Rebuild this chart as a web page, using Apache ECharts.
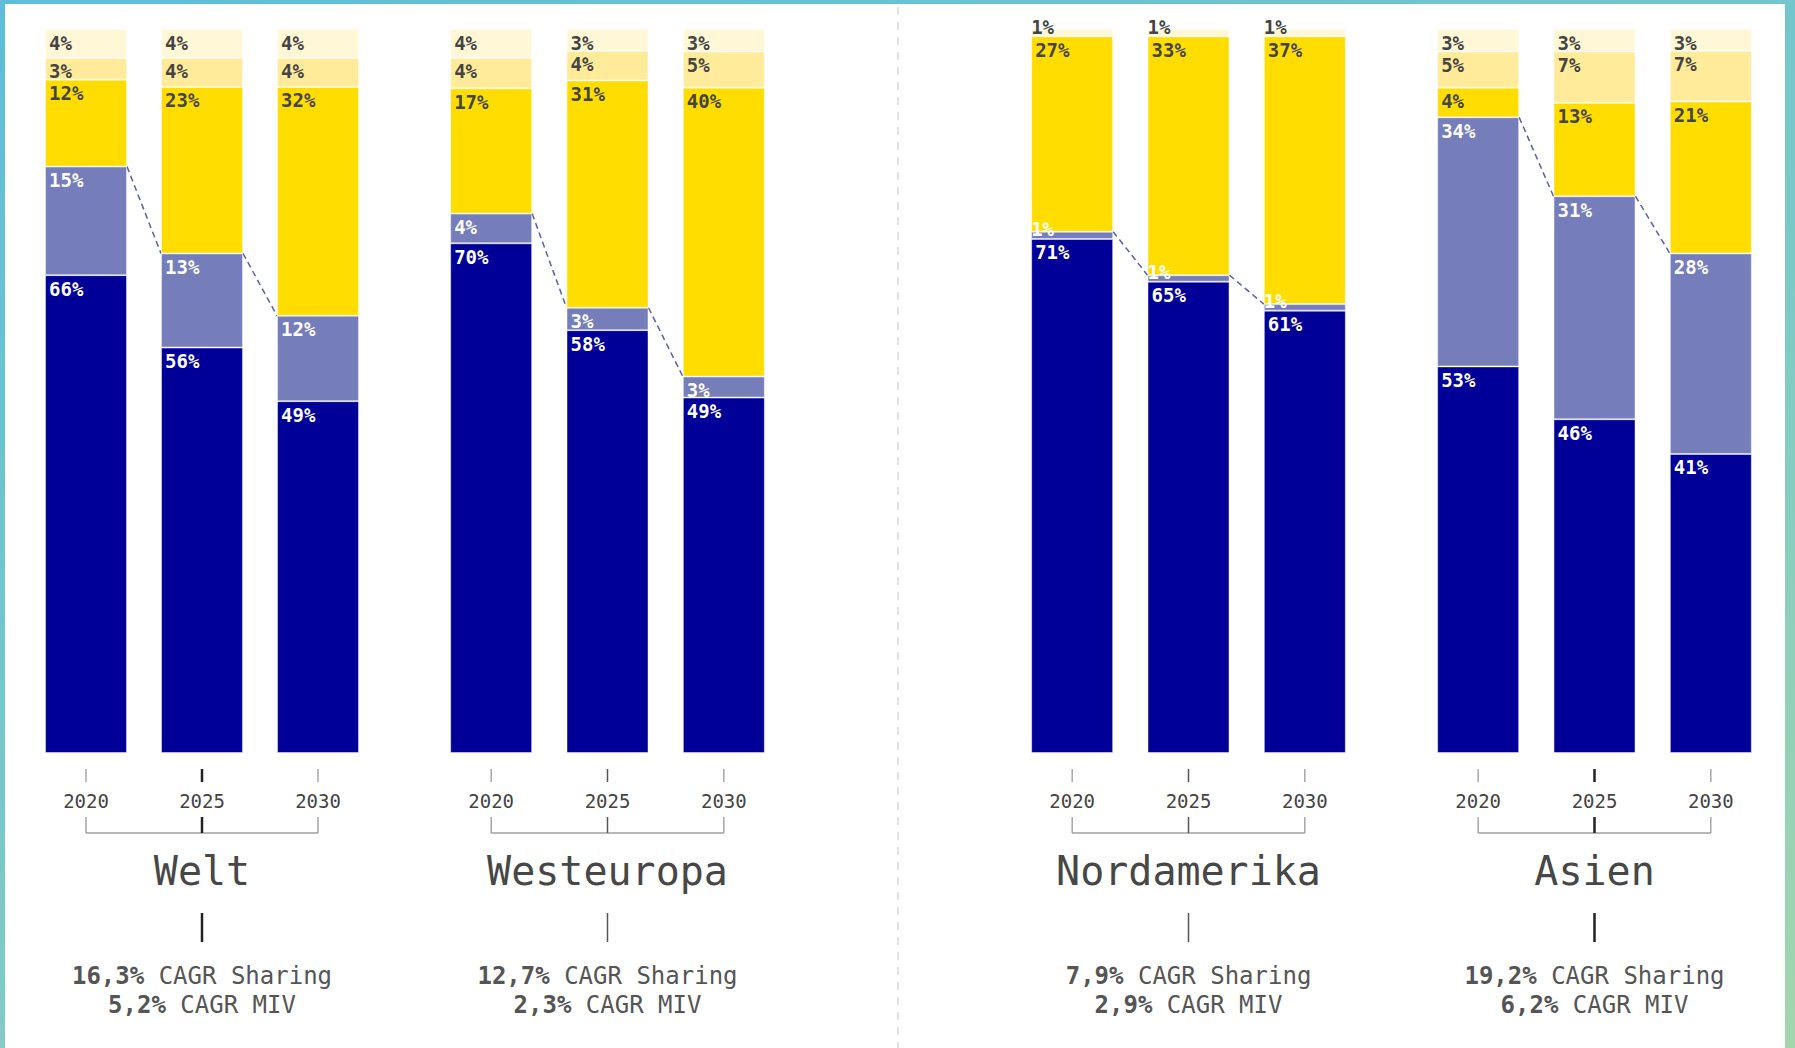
<!DOCTYPE html>
<html>
<head>
<meta charset="utf-8">
<script src="https://cdn.jsdelivr.net/npm/echarts@6/dist/echarts.min.js"></script>
<style>
  html, body { margin: 0; padding: 0; width: 1795px; height: 1048px; overflow: hidden; background: #fff; }
  #frame { position: absolute; left: 0; top: 0; width: 1795px; height: 1048px;
           background: linear-gradient(160deg, #5cbedb 0%, #7ccac6 55%, #a3d6ad 100%); }
  #inner { position: absolute; left: 5px; top: 4px; right: 10px; bottom: 0; background: #fff; }
  #chart { position: absolute; left: 0; top: 0; width: 1795px; height: 1048px; }
</style>
</head>
<body>
<div id="frame"><div id="inner"></div></div>
<div id="chart"></div>
<script>
// ---- data ----
const years = ['2020', '2025', '2030'];
const regions = ['Welt', 'Westeuropa', 'Nordamerika', 'Asien'];
const cagrSharing = ['16,3%', '12,7%', '7,9%', '19,2%'];
const cagrMiv = ['5,2%', '2,3%', '2,9%', '6,2%'];

// shares per region (rows) and year (columns), bottom segment first
const segNavy   = [[66, 56, 48.6], [70.4, 58.4, 49.1], [71, 65.1, 61.1], [53.4, 46.1, 41.3]];
const segGrey   = [[15, 13, 11.8], [4.1, 3.1, 2.9],    [1, 0.9, 0.9],    [34.4, 30.8, 27.7]];
const segYellow = [[12, 23, 31.6], [17.3, 31.4, 39.9], [27, 33, 37],     [4.1, 12.9, 21.0]];
const segLight  = [[3, 4, 4],      [4.2, 4.1, 5.0],    [0, 0, 0],        [5.0, 7.1, 7.0]];
const segTop    = [[4, 4, 4],      [4.0, 3.0, 3.1],    [1, 1, 1],        [3.1, 3.1, 3.0]];

const segments = [
  { name: 'Segment 1', data: segNavy,   color: '#000099', text: '#ffffff' },
  { name: 'Segment 2', data: segGrey,   color: '#767dbb', text: '#ffffff' },
  { name: 'Segment 3', data: segYellow, color: '#ffdd00', text: '#444444' },
  { name: 'Segment 4', data: segLight,  color: '#ffeb99', text: '#444444' },
  { name: 'Segment 5', data: segTop,    color: '#fff7d6', text: '#444444' }
];
const strongCenter = [true, false, false, true];

// ---- layout ----
const FONT = '"DejaVu Sans Mono", "Liberation Mono", monospace';
const BAR_W = 82;
const gridLefts = [28, 433, 1014, 1420];
const gridWidths = [348, 349, 349, 349];

const grids = [], xAxes = [], yAxes = [], series = [];

regions.forEach((reg, r) => {
  grids.push({ left: gridLefts[r], width: gridWidths[r], top: 29, height: 724 });
  xAxes.push({
    type: 'category', gridIndex: r, data: years,
    axisLine: { show: false }, axisTick: { show: false },
    axisLabel: { margin: 38, fontSize: 19, color: '#444', fontFamily: FONT }
  });
  yAxes.push({ type: 'value', gridIndex: r, min: 0, max: 100, show: false });

  segments.forEach(seg => {
    series.push({
      type: 'bar', name: seg.name, stack: 'r' + r,
      xAxisIndex: r, yAxisIndex: r, barWidth: BAR_W,
      itemStyle: { color: seg.color, borderColor: 'rgba(255,255,255,0.45)', borderWidth: 1 },
      label: {
        show: true, position: 'insideTopLeft', distance: 4,
        fontFamily: FONT, fontSize: 19, fontWeight: 'bold', color: seg.text,
        formatter: p => (p.value > 0 ? Math.round(p.value) + '%' : '')
      },
      data: seg.data[r].map(v => v < 2
        ? { value: v, label: { position: 'insideBottomLeft', distance: 0, offset: [0, 0] } }
        : { value: v })
    });
  });

  // dashed connectors between tops of segment 2
  const cum = years.map((_, i) => segNavy[r][i] + segGrey[r][i]);
  series.push({
    type: 'custom', xAxisIndex: r, yAxisIndex: r, clip: false, silent: true,
    data: [[0, cum[0], 1, cum[1]], [1, cum[1], 2, cum[2]]],
    encode: { x: 0, y: 1 },
    renderItem: (params, api) => {
      const a = api.coord([api.value(0), api.value(1)]);
      const b = api.coord([api.value(2), api.value(3)]);
      return {
        type: 'line',
        shape: { x1: a[0] + BAR_W / 2, y1: a[1], x2: b[0] - BAR_W / 2, y2: b[1] },
        style: { stroke: '#5a5fa8', lineWidth: 1.5, lineDash: [6, 4] }
      };
    }
  });

  // decorations: ticks, bracket, title, CAGR text
  series.push({
    type: 'custom', xAxisIndex: r, yAxisIndex: r, clip: false, silent: true,
    data: [[1, 0]], encode: { x: 0, y: 1 },
    renderItem: (params, api) => {
      const c0 = api.coord([0, 0]), c1 = api.coord([1, 0]), c2 = api.coord([2, 0]);
      const y0 = c0[1];
      const strong = strongCenter[r];
      const cStroke = strong ? '#222' : '#555';
      const cWidth = strong ? 2.5 : 1.5;
      const thin = { stroke: '#999', lineWidth: 1.3 };
      const kids = [];
      // axis ticks
      [c0, c2].forEach(c => kids.push({ type: 'line', shape: { x1: c[0], y1: y0 + 16, x2: c[0], y2: y0 + 29 }, style: thin }));
      kids.push({ type: 'line', shape: { x1: c1[0], y1: y0 + 16, x2: c1[0], y2: y0 + 29 }, style: { stroke: cStroke, lineWidth: cWidth } });
      // bracket
      kids.push({ type: 'line', shape: { x1: c0[0], y1: y0 + 80, x2: c2[0], y2: y0 + 80 }, style: { stroke: '#b8b8b8', lineWidth: 2 } });
      [c0, c2].forEach(c => kids.push({ type: 'line', shape: { x1: c[0], y1: y0 + 64, x2: c[0], y2: y0 + 80 }, style: thin }));
      kids.push({ type: 'line', shape: { x1: c1[0], y1: y0 + 64, x2: c1[0], y2: y0 + 80 }, style: { stroke: cStroke, lineWidth: cWidth } });
      // title
      kids.push({ type: 'text', x: c1[0], y: y0 + 118,
        style: { text: regions[r], fontFamily: FONT, fontSize: 40, fill: '#474747', align: 'center', verticalAlign: 'middle' } });
      // vertical line under title
      kids.push({ type: 'line', shape: { x1: c1[0], y1: y0 + 160, x2: c1[0], y2: y0 + 189 }, style: { stroke: cStroke, lineWidth: cWidth } });
      // CAGR texts
      const rich = { b: { fontFamily: FONT, fontSize: 24, fontWeight: 'bold', fill: '#555' } };
      kids.push({ type: 'text', x: c1[0], y: y0 + 223,
        style: { text: '{b|' + cagrSharing[r] + '} CAGR Sharing', fontFamily: FONT, fontSize: 24, fill: '#555', align: 'center', verticalAlign: 'middle', rich } });
      kids.push({ type: 'text', x: c1[0], y: y0 + 252,
        style: { text: '{b|' + cagrMiv[r] + '} CAGR MIV', fontFamily: FONT, fontSize: 24, fill: '#555', align: 'center', verticalAlign: 'middle', rich } });
      return { type: 'group', children: kids };
    }
  });
});

const chart = echarts.init(document.getElementById('chart'), null, { renderer: 'svg' });
chart.setOption({
  animation: false,
  backgroundColor: 'transparent',
  grid: grids, xAxis: xAxes, yAxis: yAxes, series,
  graphic: [{
    type: 'line', shape: { x1: 898, y1: 7, x2: 898, y2: 1048 },
    style: { stroke: '#e2e2e2', lineWidth: 2, lineDash: [8, 7] }
  }]
});
</script>
</body>
</html>
